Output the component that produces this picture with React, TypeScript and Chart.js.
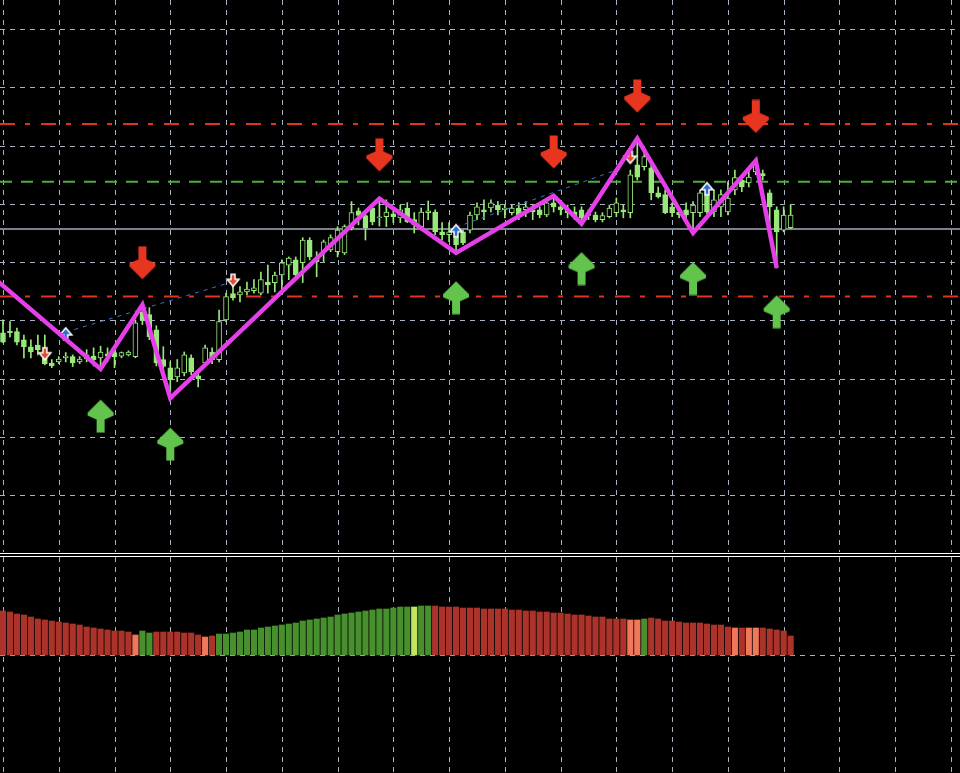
import React, { useEffect, useRef } from 'react';
import { Chart, registerables } from 'chart.js';
Chart.register(...registerables);

// ---------- price data (bar index 0..113) ----------
const opens = [
  137.9, 138.2, 138.1, 136.7, 135.5, 135.8, 133.6, 132.7, 132.9, 133.6,
  133.8, 132.9, 133.4, 133.9, 133.6, 134.3, 134.5, 133.9, 134.1, 133.8,
  141.5, 141.0, 138.4, 133.3, 131.9, 130.3, 131.0, 133.6, 130.5, 132.7,
  134.6, 133.3, 140.1, 144.6, 144.4, 144.9, 145.1, 144.7, 146.6, 146.5,
  147.8, 149.5, 150.4, 149.9, 153.8, 150.7, 151.8, 152.1, 151.8, 151.6,
  155.9, 158.8, 158.0, 159.3, 157.6, 157.8, 158.3, 157.6, 159.3, 157.3,
  156.1, 158.5, 158.6, 155.2, 154.7, 154.4, 155.2, 155.5, 158.1, 159.0,
  159.3, 159.8, 159.0, 158.5, 159.3, 159.0, 159.0, 159.0, 158.1, 160.2,
  159.5, 159.0, 158.6, 159.0, 158.0, 158.1, 157.3, 157.8, 158.5, 159.0,
  158.5, 166.7, 166.4, 166.2, 161.9, 161.6, 159.5, 158.6, 159.0, 158.5,
  158.5, 161.6, 158.6, 159.5, 158.6, 162.4, 164.1, 163.6, 165.5, 165.2,
  161.9, 159.0, 155.5, 155.9,
];
const highs = [
  140.1, 139.8, 138.7, 137.5, 136.7, 137.5, 137.5, 133.3, 133.8, 134.5,
  134.1, 133.8, 135.0, 135.3, 135.6, 135.3, 134.8, 134.6, 134.8, 140.1,
  142.7, 142.2, 139.1, 135.5, 132.9, 133.3, 134.6, 134.1, 131.2, 135.8,
  135.3, 141.8, 144.7, 145.9, 145.8, 146.6, 147.0, 148.3, 149.5, 148.3,
  150.4, 150.9, 150.9, 154.2, 154.2, 151.8, 153.8, 154.7, 156.1, 156.4,
  160.4, 159.3, 158.5, 159.8, 160.9, 160.7, 159.3, 159.8, 160.2, 158.5,
  159.3, 160.5, 159.0, 156.8, 156.8, 155.2, 155.5, 158.6, 160.2, 160.7,
  160.7, 160.4, 159.8, 159.8, 160.2, 160.4, 159.8, 159.5, 160.7, 161.4,
  160.2, 159.8, 159.5, 159.5, 159.0, 158.6, 158.5, 159.8, 161.0, 159.8,
  165.8, 171.2, 169.6, 167.2, 162.9, 162.4, 160.2, 159.3, 160.2, 160.4,
  162.4, 161.9, 162.4, 162.4, 163.8, 165.8, 165.0, 165.8, 167.4, 165.8,
  162.4, 159.5, 159.5, 159.8,
];
const lows = [
  136.2, 137.2, 135.8, 133.6, 133.6, 134.1, 132.4, 131.9, 132.6, 132.9,
  132.1, 132.6, 132.9, 132.2, 131.7, 132.9, 131.9, 133.6, 133.9, 133.6,
  139.3, 136.7, 132.2, 129.8, 126.7, 129.5, 130.5, 130.7, 128.6, 132.2,
  132.6, 132.9, 139.8, 143.5, 143.2, 144.4, 144.7, 144.4, 144.7, 144.9,
  145.3, 147.0, 147.0, 146.5, 150.4, 147.5, 150.1, 151.8, 150.9, 151.3,
  155.5, 156.4, 153.8, 156.4, 156.2, 156.1, 156.8, 156.8, 156.8, 155.0,
  155.5, 157.3, 154.7, 153.8, 153.5, 151.6, 153.0, 155.0, 157.3, 157.3,
  158.6, 158.1, 157.6, 158.1, 157.3, 157.8, 157.3, 157.6, 157.8, 158.6,
  158.1, 157.6, 157.3, 156.6, 157.3, 156.9, 156.9, 157.6, 157.8, 157.6,
  157.6, 164.1, 165.8, 160.7, 161.0, 158.3, 157.8, 157.6, 156.8, 155.0,
  157.8, 158.3, 157.8, 157.8, 158.1, 161.6, 162.1, 162.9, 165.0, 164.1,
  155.5, 149.0, 155.2, 155.7,
];
const closes = [
  136.3, 137.9, 136.3, 135.5, 134.6, 135.0, 132.6, 132.2, 133.4, 133.9,
  132.7, 133.4, 134.1, 133.3, 134.6, 133.9, 133.8, 134.5, 134.6, 139.6,
  140.1, 137.2, 132.7, 132.1, 129.8, 131.9, 134.1, 131.2, 130.0, 135.3,
  133.3, 139.8, 144.1, 143.9, 144.9, 145.4, 145.6, 147.0, 146.1, 147.8,
  149.9, 150.7, 147.8, 153.8, 150.9, 150.1, 153.5, 154.2, 155.5, 156.1,
  158.5, 158.0, 155.9, 156.9, 157.8, 158.6, 157.8, 159.0, 156.9, 156.4,
  158.6, 158.8, 155.2, 154.7, 155.2, 153.0, 153.3, 158.1, 159.5, 158.6,
  160.2, 159.0, 159.3, 159.3, 158.1, 159.5, 158.6, 158.1, 160.2, 159.5,
  159.0, 158.5, 157.8, 157.6, 158.3, 157.3, 158.0, 159.3, 160.2, 158.6,
  165.0, 164.6, 168.1, 161.9, 161.2, 158.5, 158.5, 158.1, 158.1, 159.8,
  161.9, 158.6, 160.7, 161.6, 161.0, 164.5, 162.9, 164.6, 166.7, 164.8,
  159.5, 155.2, 158.1, 158.1,
];

// ---------- zigzag ----------
const zigzagBars = [-2, 14, 20, 24, 54, 65, 79, 83, 91, 99, 108, 111];
const zigzagPrices = [148.0, 131.7, 142.7, 126.7, 160.9, 151.6, 161.4, 156.6, 171.2, 155.0, 167.4, 149.0];

// ---------- big signal arrows ----------
const sellArrowBars = [20, 54, 79, 91, 108];
const sellArrowPrices = [149.9, 168.4, 168.9, 178.5, 175.0];
const buyArrowBars = [14, 24, 65, 83, 99, 111];
const buyArrowPrices = [123.6, 118.8, 143.9, 148.9, 147.2, 141.5];

// ---------- small markers ----------
const sellMarkBars = [6, 33, 90];
const sellMarkPrices = [134.3, 146.9, 168.0];
const buyMarkBars = [9, 65, 101];
const buyMarkPrices = [137.7, 155.4, 162.6];

// ---------- blue trend segments ----------
const trendABars = [9, 32];
const trendAPrices = [138.0, 146.3];
const trendBBars = [65, 88];
const trendBPrices = [156.0, 165.8];

// ---------- horizontal levels ----------
const upperLevel = 173.7;
const pivotLevel = 163.8;
const bidLevel = 155.7;
const lowerLevel = 144.1;

// ---------- oscillator ----------
const oscValues = [
  1.10, 1.075, 1.025, 1.00, 0.95, 0.90, 0.875, 0.85, 0.825, 0.80,
  0.775, 0.75, 0.70, 0.675, 0.65, 0.625, 0.60, 0.60, 0.575, 0.50,
  0.60, 0.55, 0.575, 0.575, 0.575, 0.575, 0.55, 0.55, 0.50, 0.45,
  0.475, 0.525, 0.525, 0.55, 0.575, 0.625, 0.625, 0.675, 0.70, 0.725,
  0.75, 0.775, 0.80, 0.85, 0.875, 0.90, 0.925, 0.95, 1.00, 1.025,
  1.05, 1.075, 1.10, 1.125, 1.15, 1.15, 1.175, 1.20, 1.20, 1.20,
  1.225, 1.225, 1.225, 1.20, 1.20, 1.20, 1.175, 1.175, 1.175, 1.15,
  1.15, 1.15, 1.15, 1.125, 1.125, 1.10, 1.10, 1.075, 1.075, 1.05,
  1.05, 1.025, 1.00, 1.00, 0.975, 0.95, 0.95, 0.90, 0.90, 0.90,
  0.875, 0.875, 0.90, 0.925, 0.90, 0.85, 0.85, 0.825, 0.80, 0.80,
  0.80, 0.775, 0.75, 0.75, 0.70, 0.675, 0.675, 0.675, 0.675, 0.675,
  0.65, 0.625, 0.60, 0.475,
];
const oscGreenBars = [20, 21, 31, 32, 33, 34, 35, 36, 37, 38, 39, 40, 41, 42, 43, 44, 45, 46, 47, 48, 49, 50,
  51, 52, 53, 54, 55, 56, 57, 58, 60, 61, 92];
const oscOrangeBars = [19, 29, 90, 91, 105, 107, 108];
const oscLimeBars = [59];

// ---------- view ----------
const X_MIN = -0.43;
const X_MAX = 137.3;
const Y_MIN = 100.29;
const Y_MAX = 194.97;
const OSC_MIN = -2.95;
const OSC_MAX = 2.45;
const GRID_BARS = [0, 8, 16, 24, 32, 40, 48, 56, 64, 72, 80, 88, 96, 104, 112, 120, 128, 136];
const GRID_PRICES = [110, 120, 130, 140, 150, 160, 170, 180, 190];
const GRID_OSC = [0];

const GRID_COLOR = '#a9b2c0';
const CANDLE = '#98e87a';
const MAGENTA = '#e43fe8';

function makeArrow(color: string, up: boolean): HTMLCanvasElement {
  const c = document.createElement('canvas');
  c.width = 28;
  c.height = 34;
  const g = c.getContext('2d')!;
  const pts = [[10, 0], [18, 0], [18, 13], [27, 17], [27, 20], [14, 33], [1, 20], [1, 17], [10, 13]];
  g.beginPath();
  pts.forEach(([x, y], k) => {
    const yy = up ? 33.5 - y : y + 0.5;
    if (k === 0) g.moveTo(x, yy); else g.lineTo(x, yy);
  });
  g.closePath();
  g.fillStyle = color;
  g.fill();
  return c;
}

function makeMark(color: string, up: boolean): HTMLCanvasElement {
  const c = document.createElement('canvas');
  c.width = 16;
  c.height = 16;
  const g = c.getContext('2d')!;
  const pts = [[6, 2], [10, 2], [10, 7], [14, 7], [8, 14], [2, 7], [6, 7]];
  g.beginPath();
  pts.forEach(([x, y], k) => {
    const yy = up ? 16 - y : y;
    if (k === 0) g.moveTo(x, yy); else g.lineTo(x, yy);
  });
  g.closePath();
  g.fillStyle = color;
  g.fill();
  g.lineWidth = 1.5;
  g.strokeStyle = '#ffffff';
  g.stroke();
  return c;
}

const pairs = (xs: number[], ys: number[]) => xs.map((x, i) => ({ x, y: ys[i] }));

// dashed grid drawn from the chart's own scales
function gridPlugin(xValues: number[], yValues: number[]) {
  return {
    id: 'mtGrid',
    beforeDatasetsDraw(chart: any) {
      const { ctx, chartArea, scales } = chart;
      ctx.save();
      ctx.strokeStyle = GRID_COLOR;
      ctx.lineWidth = 1;
      ctx.setLineDash([5, 5]);
      ctx.beginPath();
      xValues.forEach((v) => {
        const px = Math.round(scales.x.getPixelForValue(v)) + 0.5;
        ctx.moveTo(px, chartArea.top);
        ctx.lineTo(px, chartArea.bottom);
      });
      yValues.forEach((v) => {
        const py = Math.round(scales.y.getPixelForValue(v)) + 0.5;
        ctx.moveTo(chartArea.left, py);
        ctx.lineTo(chartArea.right, py);
      });
      ctx.stroke();
      ctx.restore();
    },
  };
}

const baseOptions = (yMin: number, yMax: number) => ({
  animation: false as const,
  responsive: false,
  maintainAspectRatio: false,
  events: [],
  layout: { padding: 0, autoPadding: false },
  plugins: { legend: { display: false }, tooltip: { enabled: false } },
  scales: {
    x: { type: 'linear' as const, min: X_MIN, max: X_MAX, offset: false, display: false },
    y: { type: 'linear' as const, min: yMin, max: yMax, display: false },
  },
});

export default function App() {
  const mainRef = useRef<HTMLCanvasElement>(null);
  const oscRef = useRef<HTMLCanvasElement>(null);

  useEffect(() => {
    const sellArrow = makeArrow('#e8351f', false);
    const buyArrow = makeArrow('#62c44c', true);
    const sellMark = makeMark('#e0482a', false);
    const buyMark = makeMark('#2d6cd2', true);

    const levelLine = (v: number) => [{ x: X_MIN, y: v }, { x: X_MAX, y: v }];

    const main = new Chart(mainRef.current!, {
      type: 'bar',
      data: {
        datasets: [
          {
            type: 'line',
            data: pairs(zigzagBars, zigzagPrices),
            borderColor: MAGENTA,
            borderWidth: 4.5,
            pointRadius: 0,
            tension: 0,
            order: 0,
          } as any,
          {
            type: 'line',
            data: pairs(sellArrowBars, sellArrowPrices),
            showLine: false,
            pointStyle: sellArrow,
            pointRadius: 5,
            order: 1,
          } as any,
          {
            type: 'line',
            data: pairs(buyArrowBars, buyArrowPrices),
            showLine: false,
            pointStyle: buyArrow,
            pointRadius: 5,
            order: 1,
          } as any,
          {
            type: 'line',
            data: pairs(sellMarkBars, sellMarkPrices),
            showLine: false,
            pointStyle: sellMark,
            pointRadius: 5,
            order: 1,
          } as any,
          {
            type: 'line',
            data: pairs(buyMarkBars, buyMarkPrices),
            showLine: false,
            pointStyle: buyMark,
            pointRadius: 5,
            order: 1,
          } as any,
          {
            type: 'line',
            data: pairs(trendABars, trendAPrices),
            borderColor: '#3a72d4',
            borderWidth: 1,
            borderDash: [4, 5],
            pointRadius: 0,
            order: 2,
          } as any,
          {
            type: 'line',
            data: pairs(trendBBars, trendBPrices),
            borderColor: '#3a72d4',
            borderWidth: 1,
            borderDash: [4, 5],
            pointRadius: 0,
            order: 2,
          } as any,
          {
            type: 'bar',
            data: opens.map((o, i) => ({ x: i, y: [o, closes[i]] })),
            backgroundColor: opens.map((o, i) => (closes[i] >= o ? '#000000' : CANDLE)),
            borderColor: CANDLE,
            borderWidth: 1,
            borderSkipped: false,
            barThickness: 5,
            minBarLength: 1,
            grouped: false,
            order: 3,
          } as any,
          {
            type: 'bar',
            data: lows.map((l, i) => ({ x: i, y: [l, highs[i]] })),
            backgroundColor: CANDLE,
            borderWidth: 0,
            barThickness: 1,
            grouped: false,
            order: 4,
          } as any,
          {
            type: 'line',
            data: levelLine(upperLevel),
            borderColor: '#e3331f',
            borderWidth: 2,
            borderDash: [15, 10, 5, 11],
            pointRadius: 0,
            order: 5,
          } as any,
          {
            type: 'line',
            data: levelLine(lowerLevel),
            borderColor: '#e3331f',
            borderWidth: 2,
            borderDash: [15, 10, 5, 11],
            pointRadius: 0,
            order: 5,
          } as any,
          {
            type: 'line',
            data: levelLine(pivotLevel),
            borderColor: '#4caf3c',
            borderWidth: 2,
            borderDash: [12, 9],
            pointRadius: 0,
            order: 5,
          } as any,
          {
            type: 'line',
            data: levelLine(bidLevel),
            borderColor: '#a6acc0',
            borderWidth: 1.5,
            pointRadius: 0,
            order: 5,
          } as any,
        ],
      },
      options: baseOptions(Y_MIN, Y_MAX) as any,
      plugins: [gridPlugin(GRID_BARS, GRID_PRICES)],
    });

    const oscColor = (i: number) => {
      if (oscLimeBars.includes(i)) return '#c2e45e';
      if (oscOrangeBars.includes(i)) return '#f0785a';
      if (oscGreenBars.includes(i)) return '#47902d';
      return '#ab3329';
    };

    const osc = new Chart(oscRef.current!, {
      type: 'bar',
      data: {
        datasets: [
          {
            data: oscValues.map((v, i) => ({ x: i, y: v })),
            backgroundColor: oscValues.map((_, i) => oscColor(i)),
            borderWidth: 0,
            barThickness: 5.5,
            grouped: false,
          } as any,
        ],
      },
      options: baseOptions(OSC_MIN, OSC_MAX) as any,
      plugins: [gridPlugin(GRID_BARS, GRID_OSC)],
    });

    return () => {
      main.destroy();
      osc.destroy();
    };
  }, []);

  return (
    <div
      style={{
        position: 'fixed',
        left: 0,
        top: 0,
        width: 960,
        height: 773,
        background: '#000',
        overflow: 'hidden',
      }}
    >
      <canvas
        ref={mainRef}
        width={960}
        height={552}
        style={{ position: 'absolute', left: 0, top: 0, width: 960, height: 552 }}
      />
      <div
        style={{
          position: 'absolute',
          left: 0,
          top: 553,
          width: 960,
          height: 4,
          borderTop: '1px solid #ffffff',
          borderBottom: '1px solid #ffffff',
          boxSizing: 'border-box',
        }}
      />
      <canvas
        ref={oscRef}
        width={960}
        height={216}
        style={{ position: 'absolute', left: 0, top: 557, width: 960, height: 216 }}
      />
    </div>
  );
}
